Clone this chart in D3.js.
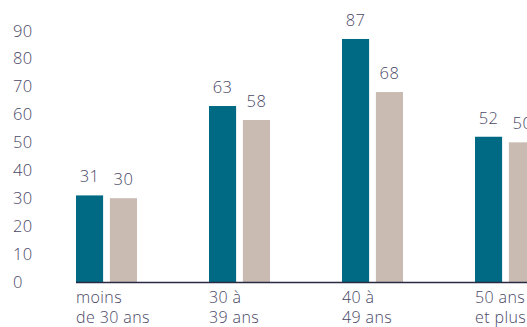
<!DOCTYPE html>
<html>
<head>
<meta charset="utf-8">
<script src="https://cdn.jsdelivr.net/npm/d3@7"></script>
<style>
  html, body { margin: 0; padding: 0; background: #fff; }
  svg { display: block; }
  text { font-family: "Open Sans", Lato, sans-serif; font-weight: 300; fill: #4a4866; }
</style>
</head>
<body>
<svg id="chart" width="527" height="327"></svg>
<script>
const categories = [["moins", "de 30 ans"], ["30 à", "39 ans"], ["40 à", "49 ans"], ["50 ans", "et plus"]];
const seriesNames = ["A", "B"];
const seriesA = [31, 63, 87, 52];
const seriesB = [30, 58, 68, 50];
const yTicks = [0, 10, 20, 30, 40, 50, 60, 70, 80, 90];
const colors = ["#006a84", "#c9bbb2"];

const svg = d3.select("#chart");
const catKeys = categories.map(c => c.join(" "));

const y = d3.scaleLinear().domain([0, 90]).range([282, 30.6]);
const x0 = d3.scaleBand().domain(catKeys).range([76, 76 + 4 * 133]).paddingInner(0).paddingOuter(0);
const x1 = d3.scaleBand().domain(seriesNames).range([0, 61]).paddingInner(0.2).paddingOuter(0);

svg.append("g").selectAll("text").data(yTicks).join("text")
  .attr("x", 13)
  .attr("y", d => y(d))
  .attr("dy", "0.36em")
  .attr("font-size", 16.5)
  .attr("letter-spacing", 0.4)
  .attr("text-anchor", "start")
  .text(d => d);

const data = catKeys.map((k, i) => ({ key: k, vals: [seriesA[i], seriesB[i]] }));

const groups = svg.append("g").selectAll("g").data(data).join("g")
  .attr("transform", d => `translate(${x0(d.key)},0)`);

groups.selectAll("rect").data(d => d.vals.map((v, j) => ({ s: seriesNames[j], v, j }))).join("rect")
  .attr("x", d => x1(d.s))
  .attr("width", x1.bandwidth())
  .attr("y", d => y(d.v))
  .attr("height", d => y(0) - y(d.v))
  .attr("fill", d => colors[d.j]);

groups.selectAll("text.val").data(d => d.vals.map((v, j) => ({ s: seriesNames[j], v, j }))).join("text")
  .attr("class", "val")
  .attr("x", d => x1(d.s) + x1.bandwidth() / 2)
  .attr("y", d => y(d.v) - 13)
  .attr("text-anchor", "middle")
  .attr("font-size", 16.5)
  .attr("letter-spacing", 0.4)
  .text(d => d.v);

svg.append("line")
  .attr("x1", 76).attr("x2", 527)
  .attr("y1", y(0) + 0.5).attr("y2", y(0) + 0.5)
  .attr("stroke", "#2b2944").attr("stroke-width", 1.5);

const lab = svg.append("g").selectAll("text").data(categories).join("text")
  .attr("x", (d, i) => x0(catKeys[i]))
  .attr("y", 303)
  .attr("font-size", 16)
  .attr("letter-spacing", 0.4)
  .attr("text-anchor", "start");
lab.selectAll("tspan").data(d => d).join("tspan")
  .attr("x", function() { return d3.select(this.parentNode).attr("x"); })
  .attr("dy", (d, i) => i === 0 ? 0 : 20)
  .text(d => d);
</script>
</body>
</html>
